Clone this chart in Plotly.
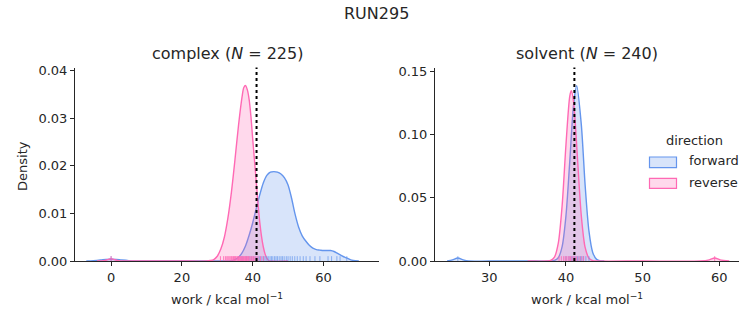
import plotly.graph_objects as go

# ---------------- data ----------------
# complex leg: KDE curves
cplx_fwd_x = [-7, -5, -3, -1.5, 0, 1.5, 3, 5, 7, 10, 20, 30, 34, 35, 36, 37, 38, 39, 40, 41, 42, 43, 44,
              45, 46, 47, 48, 49, 50, 51, 52, 53, 54, 55, 56, 57, 58, 59, 60, 61, 62, 63, 64, 65, 66,
              67, 68, 69, 70]
cplx_fwd_y = [0, 0.00008, 0.0002, 0.00032, 0.00036, 0.00032, 0.0002, 0.00008, 0.00002, 0, 0, 0,
              0.00005, 0.0003, 0.0008, 0.0017, 0.0032, 0.0054, 0.0080, 0.0110, 0.0139, 0.0164, 0.0180,
              0.0187, 0.0188, 0.0187, 0.0183, 0.0175, 0.0160, 0.0132, 0.0098, 0.0071, 0.0053, 0.0042,
              0.0033, 0.0027, 0.0024, 0.0023, 0.0022, 0.0022, 0.0022, 0.0020, 0.0016, 0.0012, 0.0008,
              0.0005, 0.0002, 0.00005, 0]
cplx_rev_x = [-4, -2, -1, 0, 1, 2, 4, 10, 20, 27, 28, 29, 30, 31, 32, 33, 34, 35, 36, 37, 37.5, 38,
              38.5, 39, 39.5, 40, 40.5, 41, 41.5, 42, 42.5, 43, 43.5, 44, 44.5, 45.5, 50]
cplx_rev_y = [0, 0.00005, 0.0003, 0.0005, 0.0003, 0.00005, 0, 0, 0, 0, 0.0001, 0.0003, 0.0010,
              0.0025, 0.0050, 0.0090, 0.0145, 0.0213, 0.0285, 0.0345, 0.0365, 0.0369, 0.0360, 0.0340,
              0.0305, 0.0258, 0.0213, 0.0168, 0.0122, 0.0082, 0.0052, 0.0030, 0.0015, 0.0006, 0.0001,
              0, 0]
# solvent leg: KDE curves
solv_fwd_x = [24.5, 25.2, 25.9, 26.6, 27.3, 30, 35, 38, 38.5, 39, 39.5, 40, 40.5, 41, 41.4, 42, 42.5,
              43, 43.5, 44, 44.5, 45]
solv_fwd_y = [0, 0.0009, 0.0024, 0.0009, 0, 0, 0, 0, 0.0004, 0.0026, 0.0114, 0.0357, 0.0790, 0.1240,
              0.1385, 0.1080, 0.0600, 0.0236, 0.0066, 0.0013, 0.0001, 0]
solv_rev_x = [35, 37.5, 38, 38.5, 39, 39.5, 40, 40.5, 40.7, 41, 41.5, 42, 42.5, 43, 43.5, 44, 50, 57.5,
              58.7, 59.4, 60.1, 61.3]
solv_rev_y = [0, 0, 0.0004, 0.0031, 0.0141, 0.0437, 0.0917, 0.1303, 0.1345, 0.1254, 0.0816, 0.0359,
              0.0107, 0.0022, 0.0003, 0, 0, 0, 0.0009, 0.0024, 0.0009, 0]

# rug samples (work values)
cplx_fwd_rug = [0.0, 37.0, 38.2, 39.0, 39.6, 40.3, 40.9, 41.5, 42.0, 42.6, 43.1, 43.5, 44.0, 44.4,
                44.9, 45.3, 45.7, 46.2, 46.6, 47.0, 47.5, 48.0, 48.4, 48.9, 49.5, 50.0, 50.6, 51.2,
                51.9, 52.6, 53.4, 54.3, 55.1, 56.2, 57.6, 59.0, 61.3, 62.3, 63.8, 64.7, 66.6]
cplx_rev_rug = [0.0, 30.9, 31.8, 32.3, 32.7, 33.0, 33.3, 33.6, 33.9, 34.1, 34.4, 34.6, 34.9, 35.1,
                35.3, 35.6, 35.8, 36.0, 36.2, 36.4, 36.6, 36.8, 37.0, 37.2, 37.4, 37.6, 37.8, 38.0,
                38.2, 38.4, 38.6, 38.8, 39.0, 39.3, 39.6, 39.9, 40.2, 40.6, 41.0, 41.5, 42.2, 43.0]
solv_fwd_rug = [25.9, 40.0, 40.4, 40.7, 40.9, 41.1, 41.3, 41.5, 41.7, 41.9, 42.1, 42.3, 42.6, 43.0]
solv_rev_rug = [39.1, 39.4, 39.7, 39.9, 40.1, 40.3, 40.5, 40.6, 40.8, 41.0, 41.2, 41.4, 41.7, 42.0,
                42.3, 59.4]

free_energy = [41.1, 41.1]
panel_titles = ["complex (<i>N</i> = 225)", "solvent (<i>N</i> = 240)"]
directions = ["forward", "reverse"]

# ---------------- styling ----------------
FONT = "DejaVu Sans"
TXT = "#262626"
BLUE = "#6495ED"
PINK = "#FF69B4"
BLUE_FILL = "rgba(100,149,237,0.25)"
PINK_FILL = "rgba(255,105,180,0.25)"
BLUE_RUG = "rgba(100,149,237,0.7)"
PINK_RUG = "rgba(255,105,180,0.85)"
W, H = 753, 325


def px(x):
    return x / W


def py(y):
    return 1 - y / H


fig = go.Figure()

panels = [
    ("x", "y", cplx_fwd_x, cplx_fwd_y, cplx_rev_x, cplx_rev_y, cplx_fwd_rug, cplx_rev_rug),
    ("x2", "y2", solv_fwd_x, solv_fwd_y, solv_rev_x, solv_rev_y, solv_fwd_rug, solv_rev_rug),
]

shapes = []
for i, (xa, ya, fx, fy, rx, ry, frug, rrug) in enumerate(panels):
    for xs, ys, lc, fc, name in [(fx, fy, BLUE, BLUE_FILL, directions[0]),
                                 (rx, ry, PINK, PINK_FILL, directions[1])]:
        fig.add_trace(go.Scatter(x=xs, y=ys, mode="lines", fill="tozeroy", fillcolor=fc,
                                 line=dict(color=lc, width=1.4, shape="spline", smoothing=0.8),
                                 xaxis=xa, yaxis=ya, name=name, showlegend=False,
                                 hoverinfo="skip"))
    for rug, col in [(frug, BLUE_RUG), (rrug, PINK_RUG)]:
        for v in rug:
            shapes.append(dict(type="line", xref=xa, yref=ya + " domain", x0=v, x1=v, y0=0,
                               y1=0.025, line=dict(color=col, width=1)))
    shapes.append(dict(type="line", xref=xa, yref=ya + " domain", x0=free_energy[i],
                       x1=free_energy[i], y0=0, y1=1,
                       line=dict(color="black", width=2, dash="dot")))

# manual legend (matplotlib-style patches)
legend_items = [(directions[0], BLUE, BLUE_FILL, 157, 167.7, 161),
                (directions[1], PINK, PINK_FILL, 178.3, 188.3, 182.3)]
annotations = []
for name, lc, fc, y0, y1, yc in legend_items:
    shapes.append(dict(type="rect", xref="paper", yref="paper", x0=px(649.5), x1=px(676.5),
                       y0=py(y1), y1=py(y0), fillcolor=fc, line=dict(color=lc, width=1.2)))
    annotations.append(dict(text=name, xref="paper", yref="paper", x=px(687), y=py(yc),
                            xanchor="left", yanchor="middle", showarrow=False,
                            font=dict(family=FONT, size=13, color=TXT)))
annotations.append(dict(text="direction", xref="paper", yref="paper", x=px(694), y=py(141),
                        xanchor="center", yanchor="middle", showarrow=False,
                        font=dict(family=FONT, size=13, color=TXT)))

# titles and labels
annotations.append(dict(text="RUN295", xref="paper", yref="paper", x=0.5, y=py(13),
                        xanchor="center", yanchor="middle", showarrow=False,
                        font=dict(family=FONT, size=16, color=TXT)))
for cx, t in [(227, panel_titles[0]), (587, panel_titles[1])]:
    annotations.append(dict(text=t, xref="paper", yref="paper", x=px(cx), y=py(54),
                            xanchor="center", yanchor="middle", showarrow=False,
                            font=dict(family=FONT, size=16, color=TXT)))
    annotations.append(dict(text="work / kcal mol<sup>−1</sup>", xref="paper", yref="paper",
                            x=px(cx), y=py(299), xanchor="center", yanchor="middle",
                            showarrow=False, font=dict(family=FONT, size=13, color=TXT)))
annotations.append(dict(text="Density", xref="paper", yref="paper", x=px(22), y=py(166),
                        xanchor="center", yanchor="middle", textangle=-90, showarrow=False,
                        font=dict(family=FONT, size=13, color=TXT)))

axis_common = dict(showline=True, linecolor=TXT, linewidth=1.1, mirror=False, showgrid=False,
                   zeroline=False, ticks="outside", ticklen=4, tickwidth=1.1, tickcolor=TXT,
                   automargin=False,
                   tickfont=dict(family=FONT, size=13, color=TXT))
ydom = [py(261), py(67.5)]

fig.update_layout(
    width=W, height=H, margin=dict(l=0, r=0, t=0, b=0, pad=0, autoexpand=False),
    paper_bgcolor="white", plot_bgcolor="white", showlegend=False,
    xaxis=dict(domain=[px(75), px(379)], range=[-10.2, 75.7], tickvals=[0, 20, 40, 60],
               anchor="y", **axis_common),
    yaxis=dict(domain=ydom, range=[0, 0.0407], tickvals=[0, 0.01, 0.02, 0.03, 0.04],
               tickformat=".2f", anchor="x", **axis_common),
    xaxis2=dict(domain=[px(435), px(739)], range=[22.92, 62.57], tickvals=[30, 40, 50, 60],
                anchor="y2", **axis_common),
    yaxis2=dict(domain=ydom, range=[0, 0.1529], tickvals=[0, 0.05, 0.10, 0.15],
                tickformat=".2f", anchor="x2", **axis_common),
    shapes=shapes, annotations=annotations,
)

fig.write_html("out.html")
